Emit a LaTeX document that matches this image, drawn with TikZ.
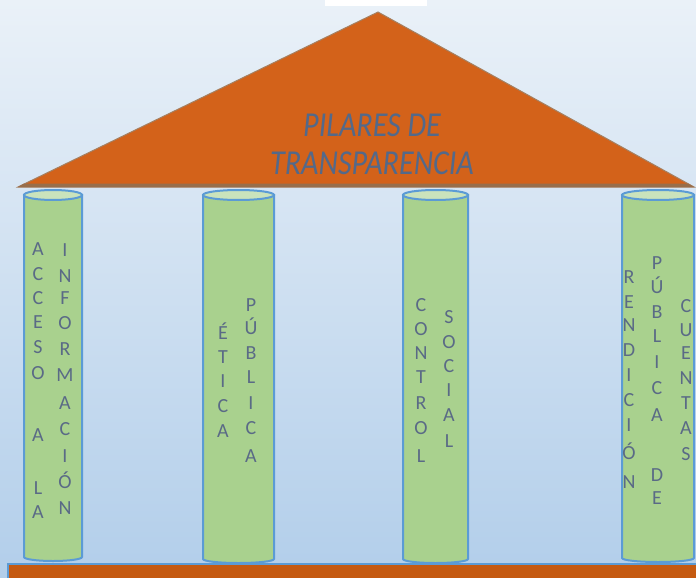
\documentclass[tikz,border=0pt]{standalone}
\usepackage{fontspec}
\setmainfont{Carlito}
\usetikzlibrary{calc}
\definecolor{fondoA}{HTML}{EAF1F8}
\definecolor{fondoM}{HTML}{C7DBEF}
\definecolor{fondoB}{HTML}{B2CEEA}
\definecolor{techo}{HTML}{D3621A}
\definecolor{sombra}{HTML}{7E4A1E}
\definecolor{columna}{HTML}{A9D18E}
\definecolor{capitel}{HTML}{CAE3BC}
\definecolor{borde}{HTML}{5B9BD5}
\definecolor{letra}{HTML}{5A6A86}
\definecolor{titulo}{HTML}{53698A}
\definecolor{base}{HTML}{C55A11}
% pillar: left x, right x, bottom y
\def\pilar(#1:#2:#3){%
  \draw[line width=2pt, draw=borde, fill=columna] (#1,195) -- (#1,#3)
    arc[start angle=180, end angle=0, x radius={(#2-#1)/2}, y radius=4] -- (#2,195) -- cycle;
  \draw[line width=2pt, draw=borde, fill=capitel] ({(#1+#2)/2},195) ellipse [x radius={(#2-#1)/2}, y radius=5];}
\tikzset{letra/.style={text=letra, inner sep=0pt, anchor=base, yshift=-6.5pt, font=\fontsize{20}{22}\selectfont},
  lema/.style={text=titulo, inner sep=0pt, xscale=0.86, font=\fontsize{35}{40}\selectfont\itshape}}

\begin{document}
\begin{tikzpicture}[x=1pt, y=-1pt]
			%%%%% START %%%%%
			\useasboundingbox (0,0) rectangle (696,578);
			\shade[top color=fondoA, middle color=fondoM, bottom color=fondoB] (0,0) rectangle (696,578);
			\fill[white] (325,0) rectangle (427,6);
			
			% roof
			\draw[line width=1pt, draw=sombra!70, fill=techo] (378,12) -- (694,187) -- (18,187) -- cycle;
			\fill[sombra!80] (24,183.5) -- (688,183.5) -- (694,187) -- (18,187) -- cycle;
			\node[lema] (lema1) at (372,125.5) {PILARES DE};
			\node[lema] (lema2) at (372,163) {TRANSPARENCIA};
			
			% base
			\draw[line width=2pt, draw=borde, fill=base] (8,564) rectangle (702,584);
			
			% pillars
			\pilar(24:82:557)
			\pilar(203:274:559)
			\pilar(403:468:559)
			\pilar(622:694:558)
			
			% acceso a la informacion
			\foreach \t/\y in {A/249, C/274, C/298, E/322, S/347, O/373, A/435, L/488, A/512}
				\node[letra] (acc-\y) at (38,\y) {\t};
			\foreach \t/\y in {I/250, N/276, F/298, O/323, R/349, M/375, A/403, C/429, I/456, Ó/482, N/508}
				\node[letra] (inf-\y) at (65,\y) {\t};
			
			% etica publica
			\foreach \t/\y in {É/333, T/357, I/381, C/406, A/431}
				\node[letra] (eti-\y) at (223,\y) {\t};
			\foreach \t/\y in {P/305, Ú/328, B/353, L/377, I/403, C/428, A/456}
				\node[letra] (pub-\y) at (251,\y) {\t};
			
			% control social
			\foreach \t/\y in {C/305, O/329, N/353, T/377, R/403, O/428, L/456}
				\node[letra] (con-\y) at (421,\y) {\t};
			\foreach \t/\y in {S/317, O/342, C/366, I/390, A/415, L/441}
				\node[letra] (soc-\y) at (449,\y) {\t};
			
			% rendicion publica de cuentas
			\foreach \t/\y in {R/277, E/302, N/325, D/350, I/375, C/400, I/425, Ó/453, N/482}
				\node[letra] (ren-\y) at (629,\y) {\t};
			\foreach \t/\y in {P/263, Ú/287, B/312, L/336, I/362, C/388, A/415, D/475, E/498}
				\node[letra] (pde-\y) at (657,\y) {\t};
			\foreach \t/\y in {C/306, U/330, E/353, N/378, T/403, A/428, S/454}
				\node[letra] (cue-\y) at (686,\y) {\t};
			%%%%% END %%%%%
\end{tikzpicture}
\end{document}
